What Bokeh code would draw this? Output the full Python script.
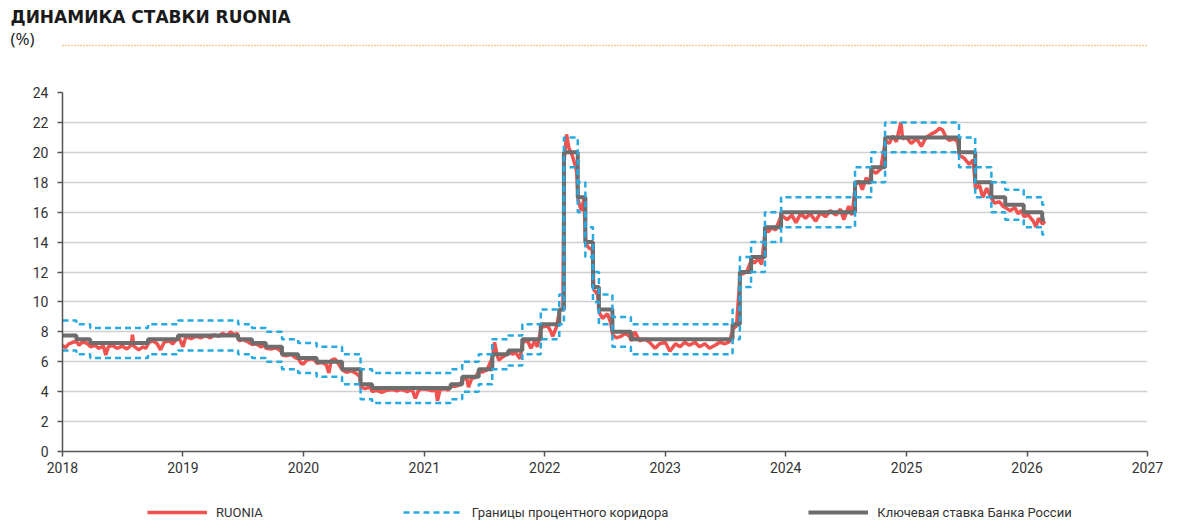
import pandas as pd
from bokeh.plotting import figure
from bokeh.layouts import column
from bokeh.models import (Range1d, FixedTicker, DatetimeTickFormatter, Legend, LegendItem,
                          Title, LinearAxis)
from bokeh.embed import file_html
from bokeh.resources import INLINE

TITLE = "ДИНАМИКА СТАВКИ RUONIA"
UNIT = "(%)"
LBL_RUONIA = "RUONIA"
LBL_CORR = "Границы процентного коридора"
LBL_KEY = "Ключевая ставка Банка России"

key_dates = ["2018-01-01", "2018-02-12", "2018-03-26", "2018-09-17", "2018-12-17",
             "2019-06-17", "2019-07-29", "2019-09-09", "2019-10-28", "2019-12-16",
             "2020-02-10", "2020-04-27", "2020-06-22", "2020-07-27",
             "2021-03-22", "2021-04-26", "2021-06-15", "2021-07-26", "2021-09-13",
             "2021-10-25", "2021-12-20",
             "2022-02-14", "2022-02-28", "2022-04-11", "2022-05-04", "2022-05-27",
             "2022-06-14", "2022-07-25", "2022-09-19",
             "2023-07-24", "2023-08-15", "2023-09-18", "2023-10-30", "2023-12-18",
             "2024-07-29", "2024-09-16", "2024-10-28",
             "2025-06-09", "2025-07-28", "2025-09-15", "2025-10-27", "2025-12-22",
             "2026-02-16", "2026-02-24"]
key_rate = [7.75, 7.50, 7.25, 7.50, 7.75,
            7.50, 7.25, 7.00, 6.50, 6.25,
            6.00, 5.50, 4.50, 4.25,
            4.50, 5.00, 5.50, 6.50, 6.75,
            7.50, 8.50,
            9.50, 20.00, 17.00, 14.00, 11.00,
            9.50, 8.00, 7.50,
            8.50, 12.00, 13.00, 15.00, 16.00,
            18.00, 19.00, 21.00,
            20.00, 18.00, 17.00, 16.50, 16.00,
            15.50, 15.50]
corridor_half_width = 1.0

ruonia_dates = [
    "2018-01-01", "2018-01-10", "2018-01-20", "2018-02-01", "2018-02-12", "2018-02-20",
    "2018-03-01", "2018-03-15", "2018-03-27", "2018-04-10", "2018-04-20", "2018-05-05",
    "2018-05-12", "2018-05-20", "2018-06-01", "2018-06-15", "2018-07-01", "2018-07-15",
    "2018-07-28", "2018-08-01", "2018-08-05", "2018-08-20", "2018-09-01", "2018-09-10",
    "2018-09-20", "2018-10-01", "2018-10-15", "2018-10-25", "2018-11-05", "2018-11-20",
    "2018-12-01", "2018-12-10", "2018-12-20", "2019-01-01", "2019-01-10", "2019-01-25",
    "2019-02-10", "2019-02-25", "2019-03-10", "2019-03-25", "2019-04-05", "2019-04-20",
    "2019-05-01", "2019-05-15", "2019-05-25", "2019-06-05", "2019-06-15", "2019-06-20",
    "2019-07-01", "2019-07-15", "2019-07-30", "2019-08-10", "2019-08-25", "2019-09-05",
    "2019-09-10", "2019-09-25", "2019-10-10", "2019-10-25", "2019-10-29", "2019-11-10",
    "2019-11-25", "2019-12-05", "2019-12-17", "2019-12-25", "2020-01-01", "2020-01-10",
    "2020-01-25", "2020-02-05", "2020-02-11", "2020-02-25", "2020-03-10", "2020-03-18",
    "2020-03-25", "2020-04-05", "2020-04-15", "2020-04-28", "2020-05-10", "2020-05-25",
    "2020-06-10", "2020-06-20", "2020-06-23", "2020-07-05", "2020-07-20", "2020-07-28",
    "2020-08-10", "2020-08-25", "2020-09-10", "2020-09-25", "2020-10-10", "2020-10-25",
    "2020-11-10", "2020-11-25", "2020-12-05", "2020-12-15", "2020-12-28", "2021-01-10",
    "2021-01-25", "2021-02-05", "2021-02-10", "2021-02-18", "2021-03-05", "2021-03-15",
    "2021-03-23", "2021-04-05", "2021-04-20", "2021-04-27", "2021-05-10", "2021-05-15",
    "2021-05-25", "2021-06-05", "2021-06-16", "2021-06-25", "2021-07-10", "2021-07-27",
    "2021-08-02", "2021-08-10", "2021-08-15", "2021-08-25", "2021-09-05", "2021-09-14",
    "2021-09-25", "2021-10-05", "2021-10-18", "2021-10-26", "2021-11-10", "2021-11-20",
    "2021-12-01", "2021-12-10", "2021-12-21", "2022-01-10", "2022-01-20", "2022-01-25",
    "2022-02-05", "2022-02-15", "2022-02-25", "2022-03-01", "2022-03-08", "2022-03-15",
    "2022-03-25", "2022-04-05", "2022-04-08", "2022-04-12", "2022-04-22", "2022-04-30",
    "2022-05-05", "2022-05-15", "2022-05-25", "2022-05-30", "2022-06-10", "2022-06-15",
    "2022-06-25", "2022-07-10", "2022-07-20", "2022-07-26", "2022-08-05", "2022-08-20",
    "2022-09-01", "2022-09-15", "2022-09-20", "2022-10-01", "2022-10-15", "2022-11-01",
    "2022-11-15", "2022-12-01", "2022-12-15", "2023-01-01", "2023-01-15", "2023-02-01",
    "2023-02-15", "2023-03-01", "2023-03-15", "2023-04-01", "2023-04-15", "2023-05-01",
    "2023-05-15", "2023-06-01", "2023-06-15", "2023-07-01", "2023-07-15", "2023-07-25",
    "2023-08-05", "2023-08-16", "2023-08-25", "2023-09-05", "2023-09-19", "2023-09-28",
    "2023-10-10", "2023-10-20", "2023-10-31", "2023-11-10", "2023-11-20", "2023-12-01",
    "2023-12-19", "2024-01-05", "2024-01-20", "2024-02-01", "2024-02-15", "2024-03-01",
    "2024-03-15", "2024-04-01", "2024-04-15", "2024-05-01", "2024-05-15", "2024-06-01",
    "2024-06-15", "2024-06-25", "2024-07-10", "2024-07-20", "2024-07-30", "2024-08-10",
    "2024-08-20", "2024-09-01", "2024-09-10", "2024-09-17", "2024-10-01", "2024-10-15",
    "2024-10-29", "2024-11-10", "2024-11-20", "2024-12-01", "2024-12-15", "2024-12-20",
    "2025-01-01", "2025-01-15", "2025-02-01", "2025-02-15", "2025-03-01", "2025-03-15",
    "2025-04-01", "2025-04-10", "2025-04-20", "2025-05-01", "2025-05-10", "2025-05-25",
    "2025-06-05", "2025-06-10", "2025-06-25", "2025-07-10", "2025-07-22", "2025-07-29",
    "2025-08-10", "2025-08-20", "2025-09-01", "2025-09-16", "2025-09-25", "2025-10-10",
    "2025-10-20", "2025-10-28", "2025-11-10", "2025-11-25", "2025-12-05", "2025-12-15",
    "2025-12-23", "2026-01-05", "2026-01-20", "2026-01-28", "2026-02-05", "2026-02-17",
    "2026-02-24"]
ruonia = [
    7.10, 6.95, 7.20, 7.30, 7.35, 7.10,
    7.30, 7.25, 7.00, 7.10, 6.90, 7.05,
    6.45, 7.00, 7.10, 6.90, 7.05, 6.85,
    7.10, 7.80, 7.05, 6.80, 7.00, 6.90,
    7.30, 7.40, 7.20, 6.80, 7.30, 7.40,
    7.20, 7.45, 7.60, 7.00, 7.70, 7.55,
    7.70, 7.60, 7.75, 7.60, 7.80, 7.70,
    7.90, 7.75, 8.00, 7.80, 7.90, 7.40,
    7.50, 7.35, 7.15, 7.20, 7.00, 7.10,
    6.90, 6.85, 6.95, 6.70, 6.45, 6.40,
    6.50, 6.30, 6.20, 5.90, 5.85, 6.10,
    6.20, 6.10, 5.90, 5.95, 5.80, 5.25,
    6.10, 6.20, 5.90, 5.45, 5.30, 5.40,
    5.20, 5.00, 4.30, 4.20, 4.30, 4.00,
    4.10, 3.95, 4.10, 4.15, 4.05, 4.15,
    4.00, 4.15, 3.55, 4.10, 4.20, 4.15,
    4.05, 4.20, 3.40, 4.15, 4.20, 4.10,
    4.40, 4.35, 4.45, 4.90, 4.85, 4.30,
    4.90, 4.95, 5.40, 5.30, 5.45, 6.30,
    7.30, 6.40, 6.10, 6.30, 6.45, 6.70,
    6.50, 6.60, 6.20, 7.30, 7.40, 6.90,
    7.35, 7.00, 8.30, 8.40, 8.00, 7.70,
    8.30, 9.40, 9.60, 19.50, 21.20, 20.30,
    19.80, 19.00, 18.60, 16.80, 16.10, 16.90,
    13.90, 13.60, 13.50, 10.80, 10.50, 9.30,
    8.90, 9.20, 8.60, 7.80, 7.60, 7.70,
    7.90, 7.70, 7.40, 8.00, 7.40, 7.50,
    7.30, 6.90, 7.20, 7.30, 6.70, 7.20,
    7.00, 7.30, 7.10, 7.30, 7.00, 7.20,
    6.90, 7.10, 7.30, 7.20, 7.35, 8.20,
    8.40, 11.80, 11.90, 12.00, 12.80, 12.60,
    12.90, 12.50, 14.80, 14.70, 15.00, 14.80,
    15.80, 15.50, 15.80, 15.30, 15.90, 15.60,
    15.90, 15.40, 15.95, 15.70, 16.10, 15.80,
    16.20, 15.50, 16.40, 15.80, 17.80, 18.10,
    17.50, 18.30, 17.90, 18.80, 18.60, 18.90,
    20.80, 20.60, 21.10, 20.70, 22.00, 20.90,
    21.00, 20.60, 20.90, 20.40, 21.00, 21.20,
    21.40, 21.60, 21.50, 21.00, 20.80, 20.90,
    20.70, 19.80, 19.60, 19.20, 19.50, 17.60,
    17.80, 17.00, 17.60, 16.90, 16.60, 16.70,
    16.40, 16.30, 16.10, 16.30, 15.90, 16.10,
    15.70, 15.80, 15.40, 15.00, 15.60, 15.20,
    15.40]

year_ticks = [str(y) for y in range(2018, 2028)]
y_ticks = list(range(0, 25, 2))

RED = "#F0524F"
GRAY = "#6D6D6D"
BLUE = "#27AAE1"
GOLD = "#EBA12B"
FONT = "Roboto"

kd = pd.to_datetime(key_dates)
rd = pd.to_datetime(ruonia_dates)
upper = [v + corridor_half_width for v in key_rate]
lower = [v - corridor_half_width for v in key_rate]
x0 = pd.Timestamp(year_ticks[0] + "-01-01").value / 1e6
x1 = pd.Timestamp(year_ticks[-1] + "-01-01").value / 1e6

W = 1200
BL, BR = 62, 53

p = figure(width=W, height=480, x_axis_type="datetime",
           x_range=Range1d(x0, x1), y_range=Range1d(0, 24),
           output_backend="svg", toolbar_location=None,
           min_border_left=BL, min_border_right=BR, min_border_top=92, min_border_bottom=29)
p.outline_line_color = None
p.xgrid.visible = False
p.ygrid.grid_line_color = "#D0D0D0"
p.ygrid.grid_line_width = 1.5
p.yaxis.ticker = FixedTicker(ticks=y_ticks)
p.xaxis.ticker = FixedTicker(ticks=[pd.Timestamp(y + "-01-01").value / 1e6 for y in year_ticks])
p.xaxis.formatter = DatetimeTickFormatter(years="%Y", months="%Y", days="%Y")
for ax in (p.xaxis, p.yaxis):
    ax.axis_line_color = "#555555"
    ax.axis_line_width = 1.5
    ax.major_tick_line_color = "#555555"
    ax.major_tick_line_width = 1.5
    ax.major_tick_in = 0
    ax.major_tick_out = 5
    ax.minor_tick_line_color = None
    ax.major_label_text_font = FONT
    ax.major_label_text_font_size = "14px"
    ax.major_label_text_color = "#333333"
p.yaxis.major_label_standoff = 9
p.xaxis.major_label_standoff = 5

# above panels, from the frame outward: spacer, dotted rule, "(%)", title
p.add_layout(Title(text=" ", text_font_size="1px", standoff=44), "above")
rule = LinearAxis(ticker=FixedTicker(ticks=[]),
                  axis_line_color=GOLD, axis_line_width=1.5, axis_line_dash="1 2",
                  major_tick_line_color=None, minor_tick_line_color=None,
                  major_tick_out=0, major_tick_in=0, major_label_standoff=0,
                  major_label_text_font_size="0px")
p.add_layout(rule, "above")
unit_title = Title(text=UNIT, align="left", offset=-52, standoff=0,
                   text_font="Open Sans", text_font_size="17px", text_font_style="normal",
                   text_color="#1a1a1a")
try:
    unit_title.standoff = -8
except Exception:
    unit_title.standoff = 0
p.add_layout(unit_title, "above")
p.add_layout(Title(text=TITLE, align="left", offset=-52, standoff=4,
                   text_font="DejaVu Sans", text_font_size="17px", text_font_style="bold",
                   text_color="#1a1a1a"), "above")

r_ru = p.line(rd, ruonia, line_color=RED, line_width=3.5)
r_key = p.step(kd, key_rate, mode="after", line_color=GRAY, line_width=4)
r_up = p.step(kd, upper, mode="after", line_color=BLUE, line_width=2.5, line_dash="6 4")
r_lo = p.step(kd, lower, mode="after", line_color=BLUE, line_width=2.5, line_dash="6 4")

# legend strip under the chart (sample lines sit outside its visible range)
lg = figure(width=W, height=51, x_range=Range1d(0, 1), y_range=Range1d(0, 1),
            x_axis_location=None, y_axis_location=None,
            output_backend="svg", toolbar_location=None,
            min_border_left=BL, min_border_right=BR, min_border_top=0, min_border_bottom=0)
lg.grid.visible = False
lg.outline_line_color = None
d_ru = lg.line(x=[-10, -9], y=[-10, -9], line_color=RED, line_width=3.5)
d_co = lg.line(x=[-10, -9], y=[-10, -9], line_color=BLUE, line_width=2.5, line_dash="6 4")
d_key = lg.line(x=[-10, -9], y=[-10, -9], line_color=GRAY, line_width=4)
legend = Legend(items=[LegendItem(label=LBL_RUONIA, renderers=[d_ru]),
                       LegendItem(label=LBL_CORR, renderers=[d_co]),
                       LegendItem(label=LBL_KEY, renderers=[d_key])],
                orientation="horizontal", location=(85, 9),
                glyph_width=60, glyph_height=20, label_standoff=9, spacing=140,
                label_text_font=FONT, label_text_font_size="13px", label_text_color="#333333",
                border_line_color=None, background_fill_alpha=0, padding=5, margin=0)
lg.add_layout(legend)

layout = column(p, lg, spacing=0)
open("out.html", "w").write(file_html(layout, INLINE))
